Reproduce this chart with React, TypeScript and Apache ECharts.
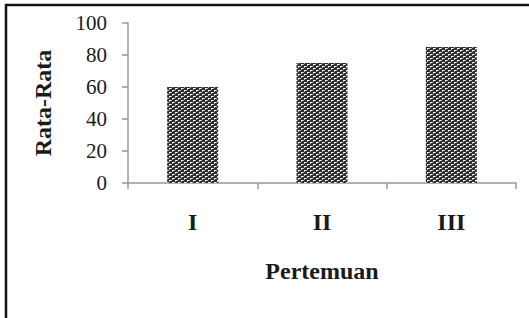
import React, { useEffect, useRef } from "react";
import * as echarts from "echarts";

const categories = ["I", "II", "III"];
const values = [60, 75, 85];
const yTicks = [0, 20, 40, 60, 80, 100];
const xTitle = "Pertemuan";
const yTitle = "Rata-Rata";

function makePattern(): HTMLCanvasElement {
  const c = document.createElement("canvas");
  c.width = 6;
  c.height = 4;
  const ctx = c.getContext("2d")!;
  ctx.fillStyle = "#2e2e2e";
  ctx.fillRect(0, 0, 6, 4);
  ctx.fillStyle = "#f4f4f4";
  ctx.fillRect(1, 0, 2, 1);
  ctx.fillRect(4, 2, 2, 1);
  ctx.fillStyle = "#b0b0b0";
  ctx.fillRect(1, 1, 1, 1);
  ctx.fillRect(4, 3, 1, 1);
  ctx.fillRect(0, 2, 1, 1);
  ctx.fillRect(3, 0, 1, 1);
  return c;
}

export default function App() {
  const ref = useRef<HTMLDivElement>(null);
  useEffect(() => {
    if (!ref.current) return;
    const chart = echarts.init(ref.current, undefined, { renderer: "svg" });
    const font = "'Liberation Serif', 'Times New Roman', serif";
    const axisColor = "#999999";
    chart.setOption({
      animation: false,
      backgroundColor: "#ffffff",
      grid: { left: 128, right: 13, top: 23, bottom: 135, containLabel: false },
      xAxis: {
        type: "category",
        data: categories,
        name: xTitle,
        nameLocation: "middle",
        nameGap: 76,
        nameTextStyle: { fontFamily: font, fontWeight: "bold", fontSize: 24, color: "#1a1a1a" },
        axisLine: { show: true, lineStyle: { color: axisColor, width: 1.5 } },
        axisTick: { show: true, alignWithLabel: false, inside: false, length: 6, lineStyle: { color: axisColor, width: 1.5 } },
        axisLabel: { fontFamily: font, fontWeight: "bold", fontSize: 24, color: "#1a1a1a", margin: 27 },
        splitLine: { show: false },
      },
      yAxis: {
        type: "value",
        min: yTicks[0],
        max: yTicks[yTicks.length - 1],
        interval: yTicks[1] - yTicks[0],
        name: yTitle,
        nameLocation: "middle",
        nameGap: 73,
        nameRotate: 90,
        nameTextStyle: { fontFamily: font, fontWeight: "bold", fontSize: 24, color: "#1a1a1a" },
        axisLine: { show: true, lineStyle: { color: axisColor, width: 1.5 } },
        axisTick: { show: true, inside: false, length: 6, lineStyle: { color: axisColor, width: 1.5 } },
        axisLabel: { fontFamily: font, fontSize: 21, color: "#1a1a1a", margin: 21 },
        splitLine: { show: false },
      },
      series: [
        {
          type: "bar",
          data: values,
          barWidth: 51,
          itemStyle: { color: { image: makePattern(), repeat: "repeat" } },
        },
      ],
      graphic: [
        {
          type: "polyline",
          shape: { points: [[6, 318], [6, 5], [529, 5]] },
          style: { stroke: "#111111", lineWidth: 2.5, fill: "none" },
          silent: true,
        },
      ],
    });
    return () => chart.dispose();
  }, []);
  return (
    <div
      ref={ref}
      style={{ position: "fixed", left: 0, top: 0, width: 529, height: 318, background: "#fff" }}
    />
  );
}
